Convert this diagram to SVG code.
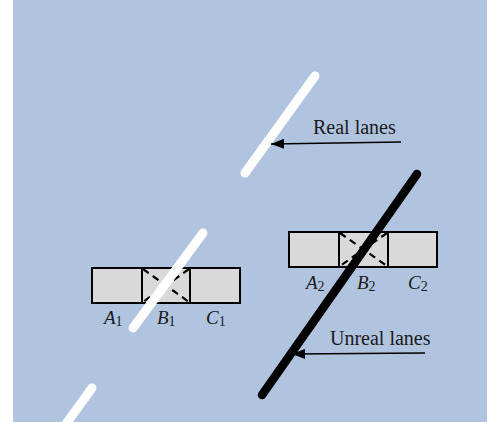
<svg xmlns="http://www.w3.org/2000/svg" width="498" height="422" viewBox="0 0 498 422">
<defs>
<style>
.bg{fill:#B0C4E0}
.cell{fill:#D9D9D9;stroke:#000;stroke-width:2}
.diag{stroke:#000;stroke-width:2.2;stroke-dasharray:7 5;fill:none}
.real{stroke:#fff;stroke-width:9;stroke-linecap:round;fill:none}
.unreal{stroke:#000;stroke-width:8.5;stroke-linecap:round;fill:none}
.lbl{font-family:"Liberation Serif","Times New Roman",serif;font-size:19px;fill:#1a1a1a}
.it{font-style:italic}
.sub{font-size:14px;font-style:normal}
.big{font-size:20px}
.conn{stroke:#000;stroke-width:1.3;fill:none}
</style>
<marker id="ah" markerUnits="userSpaceOnUse" markerWidth="14" markerHeight="10" refX="13" refY="5" orient="auto">
<path d="M0,0 L13,5 L0,10 Z" fill="#000"/>
</marker>
</defs>
<rect class="bg" x="13" y="0" width="474" height="422"/>
<g id="box1">
<rect class="cell" x="92" y="268" width="50" height="35"/>
<rect class="cell" x="142" y="268" width="48" height="35"/>
<rect class="cell" x="190" y="268" width="50" height="35"/>
<line class="diag" x1="143" y1="269" x2="189" y2="302"/>
<line class="diag" x1="189" y1="269" x2="143" y2="302"/>
</g>
<g id="box2">
<rect class="cell" x="289" y="232" width="50" height="35"/>
<rect class="cell" x="339" y="232" width="49" height="35"/>
<rect class="cell" x="388" y="232" width="49" height="35"/>
<line class="diag" x1="340" y1="233" x2="387" y2="266"/>
<line class="diag" x1="387" y1="233" x2="340" y2="266"/>
</g>
<g id="real-lanes">
<line class="real" x1="315" y1="76" x2="245" y2="173"/>
<line class="real" x1="203" y1="233" x2="133" y2="328"/>
<line class="real" x1="92" y1="388" x2="66" y2="424"/>
</g>
<g id="unreal-lane">
<line class="unreal" x1="417" y1="174" x2="262" y2="395"/>
</g>
<g id="labels1">
<text class="lbl it" x="104" y="324">A<tspan class="sub" dy="2">1</tspan></text>
<text class="lbl it" x="157" y="324">B<tspan class="sub" dy="2">1</tspan></text>
<text class="lbl it" x="206" y="324">C<tspan class="sub" dy="2">1</tspan></text>
</g>
<g id="labels2">
<text class="lbl it" x="306" y="289">A<tspan class="sub" dy="2">2</tspan></text>
<text class="lbl it" x="357" y="289">B<tspan class="sub" dy="2">2</tspan></text>
<text class="lbl it" x="408" y="289">C<tspan class="sub" dy="2">2</tspan></text>
</g>
<g id="real-label">
<text class="lbl big" x="313" y="134">Real lanes</text>
</g>
<g id="unreal-label">
<text class="lbl big" x="330" y="345">Unreal lanes</text>
</g>
<g id="connectors">
<line class="conn" x1="401" y1="142" x2="271" y2="144" marker-end="url(#ah)"/>
<line class="conn" x1="425" y1="353" x2="292" y2="354" marker-end="url(#ah)"/>
</g>
</svg>
